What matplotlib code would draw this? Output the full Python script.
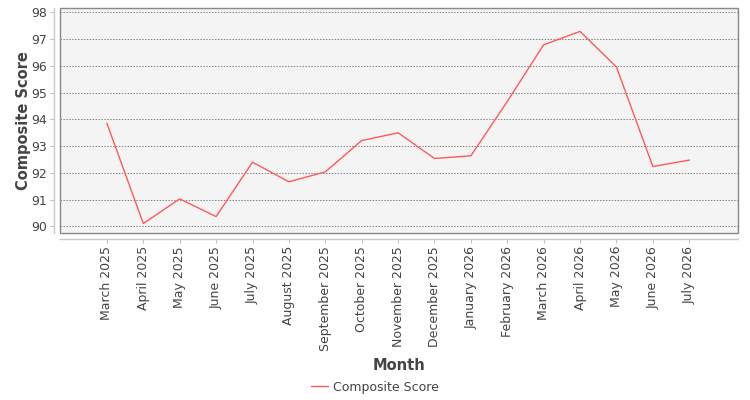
import matplotlib
matplotlib.use("Agg")
import matplotlib.pyplot as plt
from matplotlib.patches import Rectangle
from matplotlib.lines import Line2D

# ── Data ──────────────────────────────────────────────────────────────────────
months = ["March 2025", "April 2025", "May 2025", "June 2025", "July 2025",
          "August 2025", "September 2025", "October 2025", "November 2025",
          "December 2025", "January 2026", "February 2026", "March 2026",
          "April 2026", "May 2026", "June 2026", "July 2026"]
scores = [93.85, 90.11, 91.03, 90.37, 92.40, 91.67, 92.04, 93.21, 93.50,
          92.54, 92.64, 94.67, 96.79, 97.29, 95.96, 92.24, 92.48]
yticks = [90, 91, 92, 93, 94, 95, 96, 97, 98]

# ── Figure ────────────────────────────────────────────────────────────────────
fig = plt.figure(figsize=(7.5, 4), dpi=100)
fig.patch.set_facecolor("white")
ax = fig.add_axes([0.0795, 0.4165, 0.905, 0.5625])
ax.set_facecolor("#f4f4f4")

x = list(range(len(months)))
ax.plot(x, scores, color="#ff5a5a", linewidth=1.0, zorder=3)

ax.set_xlim(-1.3, len(months) - 1 + 1.35)
ax.set_ylim(89.74, 98.15)

for y in yticks:
    ax.axhline(y, color="#808080", linestyle=(0, (1.5, 1.5)), linewidth=0.7, zorder=1)

# plot frame
ax.add_patch(Rectangle((0, 0), 1, 1, transform=ax.transAxes, fill=False,
                       edgecolor="#888888", linewidth=1.0, zorder=5, clip_on=False))

# offset axis lines (light gray)
for side in ["top", "right"]:
    ax.spines[side].set_visible(False)
for side in ["left", "bottom"]:
    ax.spines[side].set_position(("outward", 4))
    ax.spines[side].set_color("#c8c8c8")
    ax.spines[side].set_linewidth(1.0)

ax.set_xticks(x)
ax.set_xticklabels(months, rotation=90, fontsize=9, color="#444444")
ax.set_yticks(yticks)
ax.set_yticklabels([str(v) for v in yticks], fontsize=9, color="#444444")
ax.tick_params(axis="both", length=3, width=0.8, color="#c0c0c0", pad=2)

ax.set_xlabel("Month", fontsize=10.5, fontweight="bold", color="#444444", labelpad=5)
ax.set_ylabel("Composite Score", fontsize=10.5, fontweight="bold", color="#444444", labelpad=0)

handle = Line2D([], [], color="#ff5a5a", linewidth=1.0)
fig.legend([handle], ["Composite Score"], loc="center", bbox_to_anchor=(0.5, 0.032),
           frameon=False, fontsize=9, handlelength=1.3, handletextpad=0.4,
           labelcolor="#444444")

plt.savefig("out.png", dpi=100)
